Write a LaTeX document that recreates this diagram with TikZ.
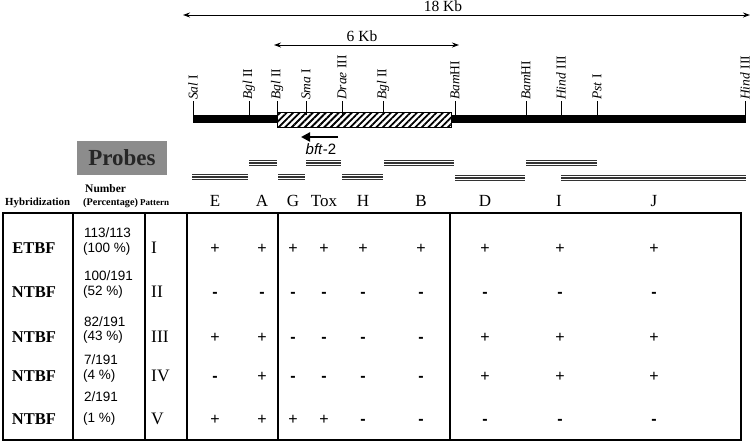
\documentclass[tikz,border=0pt]{standalone}
\usepackage{fontspec}
\setmainfont{Liberation Serif}
\newfontfamily\sansf{Liberation Sans}
\usetikzlibrary{arrows.meta,patterns.meta}
\begin{document}
\begin{tikzpicture}[x=1pt,y=-1pt,
  fs/.style={font=\fontsize{#1}{#1}\selectfont},
  site/.style={rotate=90,anchor=west,inner sep=1pt,font=\fontsize{13.5}{13.5}\selectfont},
  tickline/.style={line width=0.8pt},
  kbarrow/.style={line width=0.9pt,{Stealth[length=7pt,width=5pt]}-{Stealth[length=7pt,width=5pt]}},
  tline/.style={line width=1.1pt},
  collab/.style={font=\fontsize{17}{17}\selectfont,inner sep=0pt},
  rowlab/.style={font=\fontsize{16.5}{16.5}\selectfont\bfseries,inner sep=0pt},
  numlab/.style={font=\sansf\fontsize{13.5}{13.5}\selectfont,anchor=west,inner sep=0pt},
  patlab/.style={font=\fontsize{17.5}{17.5}\selectfont,anchor=west,inner sep=0pt},
  hdr/.style={font=\fontsize{#1}{#1}\selectfont\bfseries,anchor=west,inner sep=0pt},
  plus/.style={font=\sansf\fontsize{16}{16}\selectfont,anchor=base,inner sep=0pt},
  minus/.style={font=\sansf\bfseries\fontsize{16}{16}\selectfont,anchor=base,inner sep=0pt},
]
\useasboundingbox (0,0) rectangle (752,445);

% scale arrows
\coordinate (k18a) at (183,15);
\coordinate (k18b) at (750,15);
\draw[kbarrow] (k18a) -- (k18b);
\node[fs=15.5,inner sep=0pt] (k18) at (443,6) {18 Kb};
\coordinate (k6a) at (274,45);
\coordinate (k6b) at (459,45);
\draw[kbarrow] (k6a) -- (k6b);
\node[fs=15.5,inner sep=0pt] (k6) at (362,36) {6 Kb};

% map bar
\fill (193,115) rectangle (746,123);
\fill[white] (277,112) rectangle (451,127);
\path[pattern={Lines[angle=45,distance=4.6pt,line width=1.8pt]}] (277,112) rectangle (451,127);
\draw[line width=1pt] (277,112) rectangle (451,127);

% restriction sites
\foreach \x/\lab [count=\i] in {193/{\textit{Sal} I},249/{\textit{Bgl} II},277/{\textit{Bgl} II},306/{\textit{Sma} I},342/{\textit{Drae} III},383/{\textit{Bgl} II},455/{\textit{Bam}HI},526/{\textit{Bam}HI},561/{\textit{Hind} III},597/{\textit{Pst} I},745/{\textit{Hind} III}}{
  \coordinate (t\i) at (\x,101);
  \draw[tickline] (t\i) -- (\x,115);
  \node[site] (s\i) at (t\i) {\lab};
}

% bft-2 arrow
\coordinate (ba) at (338,137);
\coordinate (bb) at (301,137);
\draw[line width=2.6pt,-{Triangle[length=9pt,width=9pt]}] (ba) -- (bb);
\node[font=\sansf\fontsize{15}{15}\selectfont,inner sep=0pt] (bft) at (321,149) {\textit{bft}-2};

% Probes box
\node[fill=black!45,minimum width=90pt,minimum height=34pt,inner sep=0pt,
      font=\fontsize{23}{23}\selectfont\bfseries,text=black!85] (probes) at (122,158) {Probes};

% probe lines
\foreach \a/\b/\y [count=\i] in {192/248/177,249/277/163,278/305/177,306/341/163,342/383/177,384/454/163,455/525/178,526/597/163,561/746/178}{
  \coordinate (pa\i) at (\a,\y);
  \coordinate (pb\i) at (\b,\y);
  \draw[line width=6.4pt,black!80] (pa\i) -- (pb\i);
  \draw[line width=4pt,white] (pa\i) -- (pb\i);
  \draw[line width=1.4pt,black!80] (pa\i) -- (pb\i);
}

% column labels
\foreach \x/\lab [count=\i] in {215/E,262/A,293/G,324/Tox,363/H,421/B,485/D,559/I,654/J}{
  \node[collab] (c\i) at (\x,201) {\lab};
}

% headers
\node[hdr=10.8] (hh) at (5,203) {Hybridization};
\node[hdr=11.5] (hn) at (85,189) {Number};
\node[hdr=10.2] (hp) at (83,203) {(Percentage)};
\node[hdr=9] (hpat) at (140,203) {Pattern};

% table
\draw[tline] (3,213) rectangle (741,440);
\foreach \x [count=\i] in {73,145,187,278,450}{
  \coordinate (vt\i) at (\x,213);
  \coordinate (vb\i) at (\x,440);
  \draw[tline] (vt\i) -- (vb\i);
}

% rows
\foreach \y/\name/\na/\ya/\nb/\yb/\pat [count=\r] in {
  248/ETBF/{113/113}/233/(100 \%)/249/I,
  292/NTBF/{100/191}/276/(52 \%)/292/II,
  337/NTBF/{82/191}/322/(43 \%)/337/III,
  376/NTBF/{7/191}/360/(4 \%)/376/IV,
  419/NTBF/{2/191}/397/(1 \%)/419/V}{
  \node[rowlab] (r\r) at (34,\y) {\name};
  \node[numlab] (na\r) at (84,\ya) {\na};
  \node[numlab] (nb\r) at (83,\yb) {\nb};
  \node[patlab] (p\r) at (151,\y) {\pat};
}

% cells
\def\colx{{215,262,293,324,363,421,485,560,654}}
\foreach \y/\vals [count=\r] in {
  248/{+,+,+,+,+,+,+,+,+},
  292/{-,-,-,-,-,-,-,-,-},
  337/{+,+,-,-,-,-,+,+,+},
  376/{-,+,-,-,-,-,+,+,+},
  419/{+,+,+,+,-,-,-,-,-}}{
  \foreach \v [count=\c] in \vals {
    \pgfmathsetmacro{\xx}{\colx[\c-1]}
    \if\v+
      \node[plus] (cell\r-\c) at (\xx,\y+5.5) {+};
    \else
      \node[minus] (cell\r-\c) at (\xx,\y+5.5) {-};
    \fi
  }
}
\end{tikzpicture}
\end{document}
